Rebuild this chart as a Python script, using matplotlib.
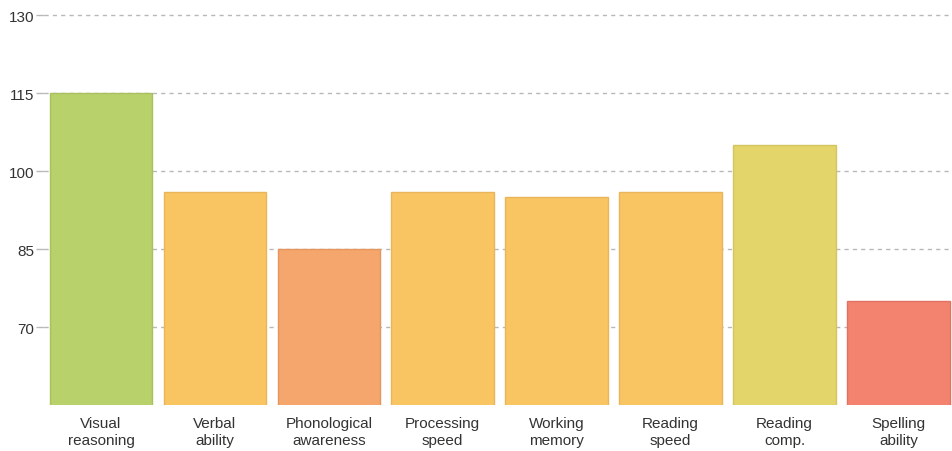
import matplotlib.pyplot as plt

# Chart data
categories = ["Visual\nreasoning", "Verbal\nability", "Phonological\nawareness",
              "Processing\nspeed", "Working\nmemory", "Reading\nspeed",
              "Reading\ncomp.", "Spelling\nability"]
scores = [115, 96, 85, 96, 95, 96, 105, 75]
barColors = ["#b9d16b", "#f9c563", "#f5a66c", "#f9c563", "#f9c563", "#f9c563",
             "#e3d56a", "#f3826f"]
edgeColors = ["#a9c060", "#e9b55a", "#e59660", "#e9b55a", "#e9b55a", "#e9b55a",
              "#d3c55f", "#e37262"]
yTicks = [70, 85, 100, 115, 130]

plt.rcParams['font.family'] = ['Liberation Sans', 'DejaVu Sans']

fig = plt.figure(figsize=(9.52, 4.52), dpi=100)
ax = fig.add_axes([44 / 952, 46 / 452, 908 / 952, 390 / 452])

x = range(len(categories))
ax.bar(x, scores, width=0.9, bottom=0, color=barColors, edgecolor=edgeColors,
       linewidth=1.0, zorder=3)

ax.set_ylim(55, 130)
ax.set_xlim(-0.5, 7.47)
ax.set_yticks(yTicks)
ax.set_yticklabels([str(t) for t in yTicks], fontsize=11, color="#333333")
ax.set_xticks(list(x))
ax.set_xticklabels(categories, fontsize=11, color="#333333", linespacing=1.25)

ax.yaxis.grid(True, linestyle=(0, (3, 3)), color="#b8b8b8", linewidth=1.0, zorder=0)
for s in ax.spines.values():
    s.set_visible(False)
ax.tick_params(axis="y", length=6, color="#b8b8b8", width=1.0, pad=1)
ax.tick_params(axis="x", length=0, pad=8)
for line in ax.get_ygridlines():
    line.set_clip_on(False)

fig.savefig("out.png", dpi=100)
